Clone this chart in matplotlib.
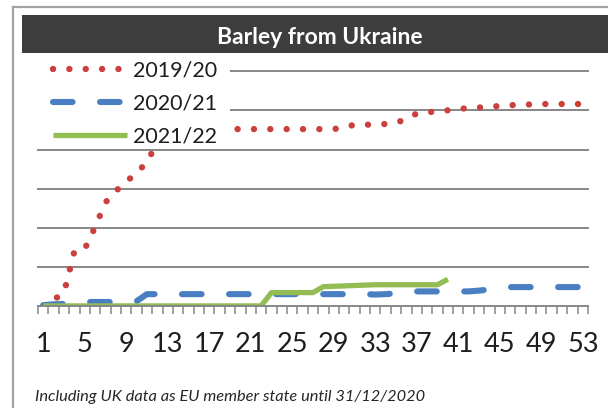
import matplotlib
matplotlib.use("Agg")
import matplotlib.pyplot as plt
from matplotlib.lines import Line2D
from matplotlib.patches import Rectangle

plt.rcParams.update({"font.family": ["Lato", "DejaVu Sans"]})

# ---- data (cumulative imports by week) ----
weeks = list(range(1, 54))
s2019 = [0.00, 0.17, 0.34, 1.40, 1.46, 2.02, 2.65, 2.94, 3.18, 3.40, 3.68, 4.18, 4.45,
         4.52, 4.52, 4.52, 4.52, 4.52, 4.52, 4.52, 4.52, 4.52, 4.52, 4.52, 4.52, 4.52,
         4.52, 4.52, 4.52, 4.57, 4.63, 4.63, 4.64, 4.65, 4.68, 4.78, 4.92, 4.95, 4.97,
         5.00, 5.03, 5.06, 5.07, 5.09, 5.11, 5.13, 5.14, 5.15, 5.16, 5.16, 5.16, 5.16, 5.16]
s2020 = [0.03, 0.05, 0.06, 0.08, 0.11, 0.11, 0.11, 0.11, 0.11, 0.13, 0.31, 0.31, 0.31,
         0.31, 0.31, 0.31, 0.31, 0.31, 0.31, 0.31, 0.31, 0.31, 0.31, 0.31, 0.31, 0.31,
         0.31, 0.31, 0.31, 0.31, 0.31, 0.31, 0.30, 0.31, 0.33, 0.36, 0.38, 0.38, 0.38,
         0.38, 0.38, 0.38, 0.40, 0.43, 0.46, 0.49, 0.49, 0.49, 0.49, 0.49, 0.49, 0.49, 0.49]
s2021 = [0.01, 0.01, 0.01, 0.01, 0.01, 0.01, 0.01, 0.01, 0.01, 0.01, 0.01, 0.01, 0.01,
         0.01, 0.01, 0.01, 0.01, 0.01, 0.01, 0.01, 0.01, 0.01, 0.35, 0.35, 0.35, 0.35,
         0.35, 0.50, 0.51, 0.52, 0.53, 0.54, 0.55, 0.55, 0.55, 0.55, 0.55, 0.55, 0.55, 0.69]
labels = ["2019/20", "2020/21", "2021/22"]
xticks = list(range(1, 54, 4))

W, H = 608, 408
fx = lambda px: px / W
fy = lambda py: 1 - py / H

fig = plt.figure(figsize=(W / 100, H / 100), dpi=100)

# outer frame + dark title bar
fig.add_artist(Line2D([fx(12.7), 1], [fy(7), fy(7)], color="#a3a3a3", lw=1.6))
fig.add_artist(Line2D([fx(12.7), fx(12.7)], [fy(7), 0], color="#a3a3a3", lw=1.6))
fig.add_artist(Rectangle((fx(21.7), fy(52.7)), 1, (52.7 - 15) / H,
                         transform=fig.transFigure, color="#3d3d3d", lw=0, zorder=3))
fig.text(fx(320), fy(44), "Barley from Ukraine", ha="center", va="baseline",
         color="white", fontsize=16.5, fontweight="bold", zorder=4)
fig.text(fx(35), fy(401.5), "Including UK data as EU member state until 31/12/2020",
         ha="left", va="baseline", fontsize=11.8, style="italic", color="#262626")

ax = fig.add_axes([fx(38), fy(306.3), fx(588) - fx(38), (306.3 - 71.1) / H])
gray = "#878787"
l1, = ax.plot(weeks, s2019, color="#c9403e", lw=4.6,
              linestyle=(0, (0.01, 2.55)), dash_capstyle="round", zorder=2)
l2, = ax.plot(weeks, s2020, color="#4a7ec2", lw=4.4,
              linestyle=(0, (3.2, 4.5)), dash_capstyle="round", zorder=2)
l3, = ax.plot(weeks[:len(s2021)], s2021, color="#93bd52", lw=3.8,
              solid_capstyle="butt", zorder=2)

ax.set_xlim(0.5, 53.5)
ax.set_ylim(0, 6)
ax.set_yticks([1, 2, 3, 4, 5, 6])
ax.yaxis.grid(True, color=gray, lw=1.4)
for gl in ax.get_ygridlines():
    gl.set_clip_on(False)
ax.set_axisbelow(True)
ax.tick_params(axis="y", length=0, labelleft=False)
for s in ["left", "right", "top"]:
    ax.spines[s].set_visible(False)
ax.spines["bottom"].set_color(gray)
ax.spines["bottom"].set_linewidth(1.4)
ax.set_xticks(xticks)
ax.set_xticks([w - 0.5 for w in weeks] + [53.5], minor=True)
ax.tick_params(axis="x", which="major", length=0, pad=18.5, labelsize=19.5,
               labelcolor="#1e1e1e")
ax.tick_params(axis="x", which="minor", length=5.8, width=1.1, color=gray)

# white legend box (hides the lines/gridlines behind it, like the original)
ax.add_patch(Rectangle((fx(20), fy(146)), fx(230) - fx(20), (146 - 55) / H,
                       transform=fig.transFigure, facecolor="white", lw=0,
                       zorder=4, clip_on=False))
leg = ax.legend([l1, l2, l3], labels, loc="upper left",
                bbox_to_anchor=(fx(53.4), fy(60.5)), bbox_transform=fig.transFigure,
                frameon=False, fontsize=15.5, borderpad=0, borderaxespad=0,
                handlelength=3.4, handletextpad=0.3, labelspacing=0.6)
leg.set_zorder(5)
for t in leg.get_texts():
    t.set_color("#1e1e1e")

fig.savefig("out.png", dpi=100)
